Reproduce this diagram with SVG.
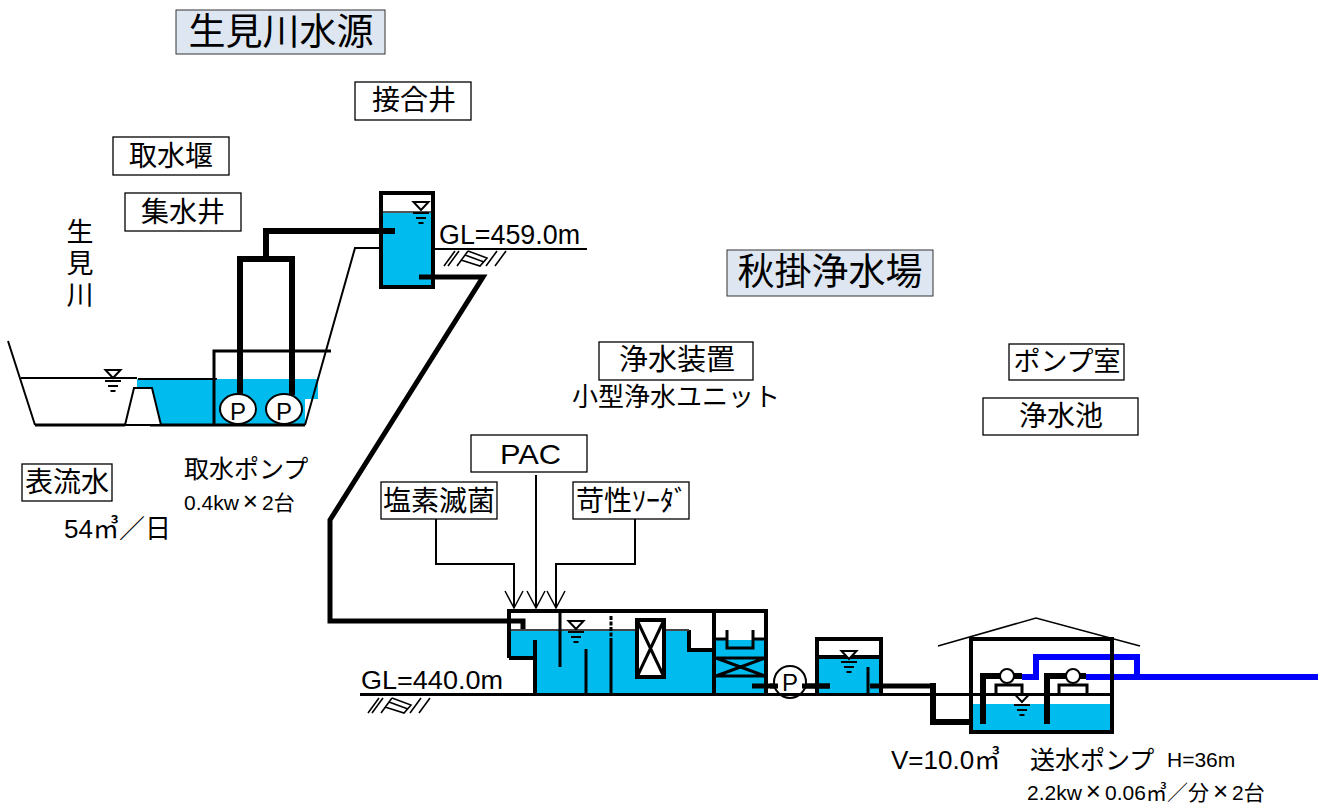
<svg xmlns="http://www.w3.org/2000/svg" xmlns:xlink="http://www.w3.org/1999/xlink" width="1322" height="809" viewBox="0 0 1322 809">
<style>
.j{font-family:"Noto Sans CJK JP","Noto Sans",sans-serif;fill:#000}
.a{font-family:"Liberation Sans","Noto Sans CJK JP",sans-serif;fill:#000}
.m{text-anchor:middle}
.box{fill:#fff;stroke:#000;stroke-width:1.3}
.tbox{fill:#dee7f1;stroke:#333;stroke-width:1}
.w{fill:#00bcee;stroke:none}
.l1{fill:none;stroke:#000;stroke-width:1.5}
.l2{fill:none;stroke:#000;stroke-width:2}
.l3{fill:none;stroke:#000;stroke-width:3}
.l4{fill:none;stroke:#000;stroke-width:4}
.l5{fill:none;stroke:#000;stroke-width:5}
.l6{fill:none;stroke:#000;stroke-width:6}
.bl{fill:none;stroke:#0000ff;stroke-width:6}
.p{fill:#fff;stroke:#000;stroke-width:2}
</style>
<defs>
<g id="lvl"><path d="M-7.500,-11H7.500L0,-3Z" fill="#fff" stroke="#000" stroke-width="2"/><path d="M-8,0H8M-5,5H5M-2.500,10H2.500" stroke="#000" stroke-width="2" fill="none"/></g>
<g id="hatch"><path d="M455,251L444,266M459,251L448,266M468,251L457,266M468,251L487,258L480,266L461,260M465,255L484,262M497,251L486,266M506,251L495,266" fill="none" stroke="#000" stroke-width="1.600"/></g>
<marker id="ah" markerWidth="22" markerHeight="22" refX="18" refY="11" orient="auto" markerUnits="userSpaceOnUse" overflow="visible"><path d="M1,2L18,11L1,20" fill="none" stroke="#000" stroke-width="1.500"/></marker>
</defs>

<g id="water">
<path class="w" d="M137,379H318V399H305V425H137Z"/>
<rect class="w" x="381" y="212" width="52" height="75"/>
<path class="w" d="M511,630H689V650H714V695H535V658H511Z"/>
<rect class="w" x="714" y="640" width="52" height="55"/>
<rect class="w" x="817" y="658" width="64" height="36"/>
<rect class="w" x="971" y="704" width="141" height="28"/>
</g>

<g id="connectors">
<path class="l5" d="M419,277H483L330,520V621H523V630"/>
<path class="l6" d="M240,395V259H292V395M266,259V231H395"/>
<path class="l5" d="M752,686H830M870,686H933"/>
<path class="l6" d="M933,683V722H970"/>
<path class="l6" d="M983,724V676H1022M1047,724V676H1086"/>
<path class="bl" d="M1022,677H1036V657H1137V677M1086,677H1318"/>
<path class="l2" d="M436,519V564H514V608" marker-end="url(#ah)"/>
<path class="l2" d="M536,475V608" marker-end="url(#ah)"/>
<path class="l2" d="M635,519V564H556V608" marker-end="url(#ah)"/>
</g>

<g id="river">
<path class="l2" d="M8,341L35,425M21,378H137M138,379H217"/>
<path class="l3" d="M35,425H125M150,425H305"/>
<path d="M125,425L134,388H152L161,425Z" fill="#fff" stroke="#000" stroke-width="2"/>
<use xlink:href="#lvl" href="#lvl" x="113" y="381"/>
<path class="l3" d="M214,425V351H331"/>
<path class="l2" d="M305,425L355,248H381"/>
</g>
<g id="intake-pumps">
<ellipse class="p" cx="238" cy="409" rx="18" ry="15"/><ellipse class="p" cx="284" cy="409" rx="18" ry="15"/>
<text class="a m" x="238" y="420" font-size="24">P</text><text class="a m" x="284" y="420" font-size="24">P</text>
</g>

<g id="junction-well">
<path d="M383,212H431" stroke="#555" stroke-width="2"/>
<rect x="381" y="193" width="52" height="94" fill="none" stroke="#000" stroke-width="4"/>
<use xlink:href="#lvl" href="#lvl" x="421" y="213"/>
<path class="l2" d="M433,249H587"/>
<use xlink:href="#hatch" href="#hatch"/>
<text class="a" x="439" y="244" font-size="27" textLength="141" lengthAdjust="spacingAndGlyphs">GL=459.0m</text>
</g>

<g id="treatment-unit">
<path class="l4" d="M509,658V611H766V695M509,658H535M535,640V695M714,611V695M689,630V650H714"/>
<path d="M511,630H689" stroke="#444" stroke-width="2"/>
<path class="l3" d="M560,611V667M586,649V695"/>
<path class="l3" d="M611,640V695"/>
<path d="M611,616V640" stroke="#000" stroke-width="3" stroke-dasharray="4 1.500"/>
<rect x="637" y="620" width="27" height="57" fill="#fff" stroke="#000" stroke-width="4"/>
<path class="l3" d="M637,620L664,677M664,620L637,677"/>
<path class="l3" d="M714,639H727V630M727,630V648H753V630M753,639H766"/>
<path class="l3" d="M714,658H766M714,676H766M716,658L765,676M765,658L716,676"/>
<use xlink:href="#lvl" href="#lvl" x="576" y="632"/>
</g>
<g id="unit-pump">
<circle class="p" cx="790" cy="682" r="16"/>
<path class="l5" d="M770,686H778M802,686H830"/>
<text class="a m" x="790" y="691" font-size="24">P</text>
</g>
<g id="clear-tank">
<path class="l4" d="M817,694V639H883M881,639V694M817,657H883"/>
<path class="l3" d="M868,667V694"/>
<use xlink:href="#lvl" href="#lvl" x="849" y="662"/>
</g>
<g id="pump-house">
<path class="l1" d="M938,646L1036,618L1140,646"/>
<rect x="971" y="639" width="141" height="93" fill="none" stroke="#000" stroke-width="4"/>
<circle class="p" cx="1007" cy="676" r="7"/><circle class="p" cx="1073" cy="676" r="7"/>
<path class="l3" d="M996,694V685H1022V694M1059,694V685H1087V694"/>
<use xlink:href="#lvl" href="#lvl" x="1022" y="705"/>
</g>
<path id="ground" d="M360,694.500H1112" stroke="#000" stroke-width="3" fill="none"/>
<use xlink:href="#hatch" href="#hatch" x="-76" y="447"/>
<text class="a" x="361" y="689" font-size="25" textLength="142" lengthAdjust="spacingAndGlyphs">GL=440.0m</text>

<g id="n-title1"><rect class="tbox" x="176" y="10" width="209" height="44"/><text class="j m" x="281" y="45" font-size="37">生見川水源</text></g>
<g id="n-setsugo"><rect class="box" x="355" y="82" width="116" height="38"/><text class="j m" x="414" y="110" font-size="28">接合井</text></g>
<g id="n-shusui"><rect class="box" x="113" y="137" width="116" height="38"/><text class="j m" x="171" y="166" font-size="28">取水堰</text></g>
<g id="n-shusuii"><rect class="box" x="125" y="193" width="116" height="38"/><text class="j m" x="183" y="222" font-size="28">集水井</text></g>
<g id="n-river"><text class="j" x="80" y="218" font-size="27" style="writing-mode:vertical-rl;letter-spacing:4.500px">生見川</text></g>
<g id="n-surface"><rect class="box" x="22" y="464" width="90" height="37"/><text class="j m" x="67" y="492" font-size="28">表流水</text></g>
<text class="a" x="64" y="538" font-size="26">54㎥／日</text>
<text class="j" x="184" y="478" font-size="25">取水ポンプ</text>
<text class="a" x="184" y="510" font-size="21">0.4kw<tspan dx="4" font-size="26">×</tspan><tspan dx="4">2台</tspan></text>
<g id="n-title2"><rect class="tbox" x="727" y="250" width="206" height="46"/><text class="j m" x="830" y="285" font-size="37">秋掛浄水場</text></g>
<g id="n-purifier"><rect class="box" x="599" y="342" width="154" height="38"/><text class="j m" x="677" y="370" font-size="29">浄水装置</text></g>
<text class="j" x="572" y="406" font-size="26">小型浄水ユニット</text>
<g id="n-pumproom"><rect class="box" x="1009" y="344" width="115" height="36"/><text class="j m" x="1067" y="371" font-size="27">ポンプ室</text></g>
<g id="n-pool"><rect class="box" x="983" y="398" width="155" height="37"/><text class="j m" x="1061" y="426" font-size="28">浄水池</text></g>
<g id="n-pac"><rect class="box" x="471" y="435" width="116" height="37"/><text class="a" x="500" y="464" font-size="28" textLength="61" lengthAdjust="spacingAndGlyphs">PAC</text></g>
<g id="n-chlorine"><rect class="box" x="381" y="482" width="116" height="37"/><text class="j m" x="439" y="511" font-size="28">塩素滅菌</text></g>
<g id="n-soda"><rect class="box" x="573" y="482" width="116" height="37"/><text class="j" x="576" y="511" font-size="28">苛性ｿｰﾀﾞ</text></g>
<text class="a" x="891" y="769" font-size="26">V=10.0㎥</text>
<text class="j" x="1030" y="769" font-size="25">送水ポンプ</text>
<text class="a" x="1167" y="767" font-size="21">H=36m</text>
<text class="a" x="1027" y="800" font-size="21">2.2kw<tspan dx="4" font-size="26">×</tspan><tspan dx="4">0.06㎥／分</tspan><tspan dx="4" font-size="26">×</tspan><tspan dx="4">2台</tspan></text>
</svg>
